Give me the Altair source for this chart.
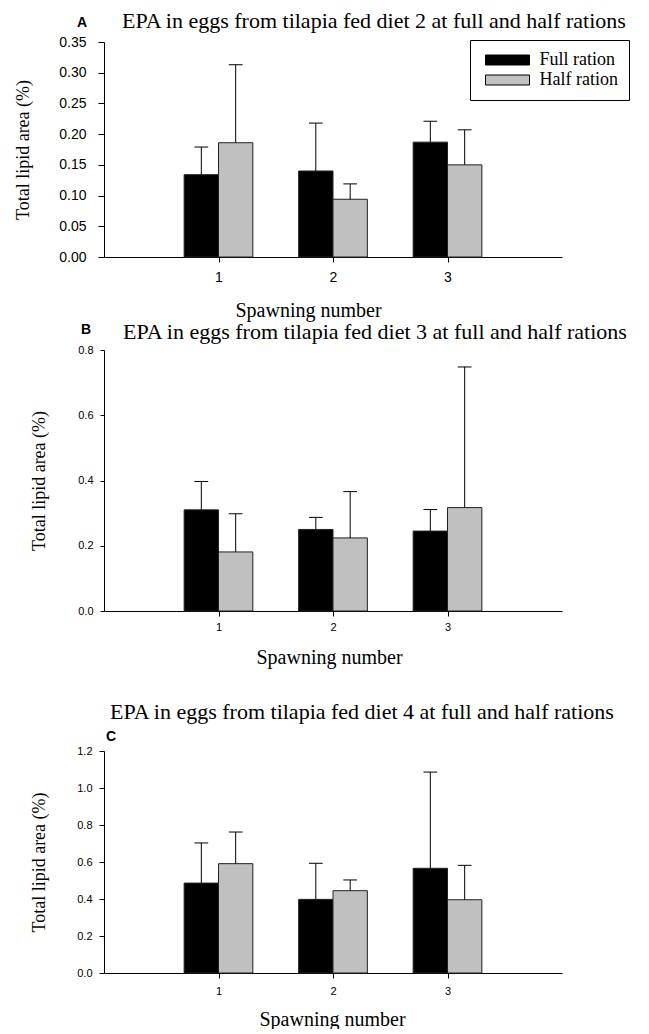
import altair as alt
import pandas as pd

# Spawning events and ration groups
SPAWNING = [1, 2, 3]
RATIONS = ["Full ration", "Half ration"]

# EPA (% of total lipid area): means and upper standard errors per spawning
DIET2_FULL = [0.134, 0.140, 0.187]
DIET2_FULL_SE = [0.045, 0.078, 0.034]
DIET2_HALF = [0.186, 0.094, 0.150]
DIET2_HALF_SE = [0.127, 0.025, 0.057]

DIET3_FULL = [0.310, 0.250, 0.245]
DIET3_FULL_SE = [0.087, 0.037, 0.066]
DIET3_HALF = [0.181, 0.224, 0.317]
DIET3_HALF_SE = [0.117, 0.142, 0.431]

DIET4_FULL = [0.486, 0.398, 0.566]
DIET4_FULL_SE = [0.217, 0.195, 0.520]
DIET4_HALF = [0.591, 0.445, 0.396]
DIET4_HALF_SE = [0.171, 0.058, 0.186]

HEADINGS = [
    "EPA in eggs from tilapia fed diet 2 at full and half rations",
    "EPA in eggs from tilapia fed diet 3 at full and half rations",
    "EPA in eggs from tilapia fed diet 4 at full and half rations",
]

SERIF = "Liberation Serif"
SANS = "Liberation Sans"
PLOT_W = 458
X_TITLE = "Spawning number"
Y_TITLE = "Total lipid area (%)"


def table(full, full_se, half, half_se):
    rows = []
    for ration, means, ses in ((RATIONS[0], full, full_se), (RATIONS[1], half, half_se)):
        for s, m, e in zip(SPAWNING, means, ses):
            rows.append({"spawning": s, "ration": ration, "mean": m, "se": e})
    return pd.DataFrame(rows)


def letter_mark(letter, x, y):
    return alt.Chart(pd.DataFrame({"t": [letter]})).mark_text(
        font=SANS, fontSize=14, fontWeight="bold", color="black",
        align="center", baseline="middle",
    ).encode(x=alt.value(x), y=alt.value(y), text="t:N")


def heading_mark(text, x, y):
    return alt.Chart(pd.DataFrame({"t": [text]})).mark_text(
        font=SERIF, fontSize=22, color="black", align="left", baseline="middle",
    ).encode(x=alt.value(x), y=alt.value(y), text="t:N")


def panel(df, ymax, ystep, yfmt, height, tick_font, x_label_pad, y_label_pad, y_tick,
          y_title_x, x_title_x, x_title_y, legend, extras):
    base = alt.Chart(df).transform_calculate(
        x0="datum.spawning + (datum.ration == 'Full ration' ? -0.3 : 0)"
    ).transform_calculate(
        x1="datum.x0 + 0.3",
        xc="datum.x0 + 0.15",
        c0="datum.x0 + 0.09",
        c1="datum.x0 + 0.21",
        top="datum.mean + datum.se",
    )

    xscale = alt.Scale(domain=[0, 4], nice=False, zero=False)
    yscale = alt.Scale(domain=[0, ymax], nice=False)
    n = int(round(ymax / ystep))
    yvals = [round(i * ystep, 3) for i in range(n + 1)]

    xaxis = alt.Axis(
        values=SPAWNING, format="d", grid=False, domainColor="black", tickColor="black",
        tickSize=5, labelFont=SANS, labelFontSize=tick_font, labelColor="black",
        labelPadding=x_label_pad, labelOverlap=False, titleFont=SERIF, titleFontSize=20,
        titleFontWeight="normal", titleColor="black", titleX=x_title_x, titleY=x_title_y,
        titleBaseline="middle", titleAlign="center",
    )
    yaxis = alt.Axis(
        values=yvals, format=yfmt, grid=False, domainColor="black", tickColor="black",
        tickSize=y_tick, labelFont=SANS, labelFontSize=tick_font, labelColor="black",
        labelPadding=y_label_pad, labelOverlap=False, titleFont=SERIF, titleFontSize=18,
        titleFontWeight="normal", titleColor="black", titleX=y_title_x, titleY=height / 2,
        titleBaseline="middle", titleAlign="center", titleAngle=270,
    )

    if legend:
        leg = alt.Legend(
            title=None, orient="none", legendX=366, legendY=-2, direction="vertical",
            strokeColor="black", padding=11, symbolType="M-4.4,-1H4.4V1H-4.4Z",
            symbolSize=100, symbolStrokeColor="black", symbolStrokeWidth=1,
            symbolOffset=17.5, symbolOpacity=1, labelFont=SERIF, labelFontSize=18,
            labelColor="black", labelOffset=23, rowPadding=2, fillColor="white",
        )
    else:
        leg = None

    color = alt.Color(
        "ration:N",
        scale=alt.Scale(domain=RATIONS, range=["#000000", "#c0c0c0"]),
        legend=leg,
    )

    bars = base.mark_bar(stroke="#222222", strokeWidth=1, opacity=1).encode(
        x=alt.X("x0:Q", scale=xscale, axis=xaxis, title=X_TITLE),
        x2="x1:Q",
        y=alt.Y("mean:Q", scale=yscale, axis=yaxis, title=Y_TITLE),
        y2=alt.datum(0),
        color=color,
    )
    stems = base.mark_rule(color="black", strokeWidth=1).encode(
        x=alt.X("xc:Q", scale=xscale, axis=xaxis, title=X_TITLE),
        y=alt.Y("mean:Q", scale=yscale, axis=yaxis, title=Y_TITLE),
        y2="top:Q",
    )
    caps = base.mark_rule(color="black", strokeWidth=1).encode(
        x=alt.X("c0:Q", scale=xscale, axis=xaxis, title=X_TITLE),
        x2="c1:Q",
        y=alt.Y("top:Q", scale=yscale, axis=yaxis, title=Y_TITLE),
    )

    return alt.layer(bars, stems, caps, *extras).properties(width=PLOT_W, height=height)


H_A, H_B, H_C = 215, 261, 222

pa = panel(table(DIET2_FULL, DIET2_FULL_SE, DIET2_HALF, DIET2_HALF_SE),
           0.35, 0.05, ".2f", H_A, 14, 8, 12, 6, -81, 204, 53, True,
           [letter_mark("A", -22, -19), heading_mark(HEADINGS[0], 18, -21)])
# panel B also carries the heading and letter that sit above panel C
pb = panel(table(DIET3_FULL, DIET3_FULL_SE, DIET3_HALF, DIET3_HALF_SE),
           0.8, 0.2, ".1f", H_B, 11, 5, 7, 4, -65, 225, 46, False,
           [letter_mark("B", -18, -20), heading_mark(HEADINGS[1], 19, -18),
            heading_mark(HEADINGS[2], 6, 362), letter_mark("C", 7, 387)])
pc = panel(table(DIET4_FULL, DIET4_FULL_SE, DIET4_HALF, DIET4_HALF_SE),
           1.2, 0.2, ".1f", H_C, 11, 7, 7, 5, -65, 228, 46, False, [])

chart = alt.vconcat(pa, pb, pc, spacing=1).resolve_scale(
    color="independent", y="independent", x="independent"
).properties(
    background="white", padding={"left": 14, "top": 10, "right": 0, "bottom": 0}
).configure_view(stroke="transparent", strokeWidth=0)

chart.save("out.html", embed_options={"renderer": "svg", "actions": False})
